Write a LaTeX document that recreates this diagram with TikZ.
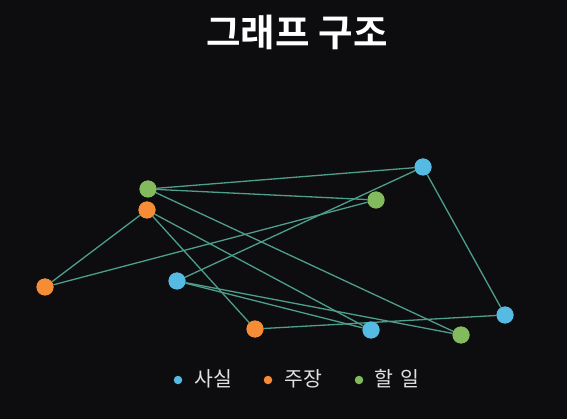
\documentclass[tikz,border=0pt]{standalone}
\usepackage{fontspec}
\newfontfamily\kr{Noto Sans CJK KR}
\newfontfamily\krb{Noto Sans CJK KR Bold}
\definecolor{bg}{HTML}{0D0D10}
\definecolor{edgec}{HTML}{4E9E8C}
\definecolor{fact}{HTML}{56BBE3}
\definecolor{claim}{HTML}{F68D36}
\definecolor{todo}{HTML}{84BA5E}
\tikzset{
  dot/.style={circle, inner sep=0pt, minimum size=17pt},
  factdot/.style={dot, fill=fact},
  claimdot/.style={dot, fill=claim},
  tododot/.style={dot, fill=todo},
  link/.style={draw=edgec, line width=1.3pt},
  legdot/.style={circle, inner sep=0pt, minimum size=8.5pt},
  legtext/.style={text=white!88!black, font=\kr\fontsize{20.5}{24}\selectfont, anchor=west, inner sep=0pt}
}
\begin{document}
\begin{tikzpicture}[x=1pt,y=-1pt]
\fill[bg] (0,0) rectangle (567,419);
\useasboundingbox (0,0) rectangle (567,419);
\node[text=white, font=\krb\fontsize{37.5}{44}\selectfont] (title) at (297,32) {그래프 구조};
% nodes
\node[tododot] (g1) at (148,189) {};
\node[claimdot] (o1) at (147,210) {};
\node[claimdot] (o2) at (45,287) {};
\node[factdot] (b1) at (177,281) {};
\node[claimdot] (o3) at (255,329) {};
\node[factdot] (b2) at (423,167) {};
\node[tododot] (g2) at (376,200) {};
\node[factdot] (b3) at (371,330) {};
\node[tododot] (g3) at (461,335) {};
\node[factdot] (b4) at (505,315) {};
% edges
\draw[link] (g1) -- (b2);
\draw[link] (g1) -- (g2);
\draw[link] (g1) -- (g3);
\draw[link] (o1) -- (o2);
\draw[link] (o1) -- (b3);
\draw[link] (o1) -- (o3);
\draw[link] (o2) -- (g2);
\draw[link] (b1) -- (b2);
\draw[link] (b1) -- (b3);
\draw[link] (b1) -- (g3);
\draw[link] (o3) -- (b4);
\draw[link] (b2) -- (b4);
% redraw nodes on top
\foreach \n/\s in {g1/tododot,o1/claimdot,o2/claimdot,b1/factdot,o3/claimdot,b2/factdot,g2/tododot,b3/factdot,g3/tododot,b4/factdot}{
  \node[\s] at (\n) {};
}
% legend
\node[legdot, fill=fact] (l1) at (178,380) {};
\node[legtext] (t1) at (194,379) {사실};
\node[legdot, fill=claim] (l2) at (268,380) {};
\node[legtext] (t2) at (284,379) {주장};
\node[legdot, fill=todo] (l3) at (359,380) {};
\node[legtext] (t3) at (374,379) {할\hspace{0.12em} 일};
\end{tikzpicture}
\end{document}
